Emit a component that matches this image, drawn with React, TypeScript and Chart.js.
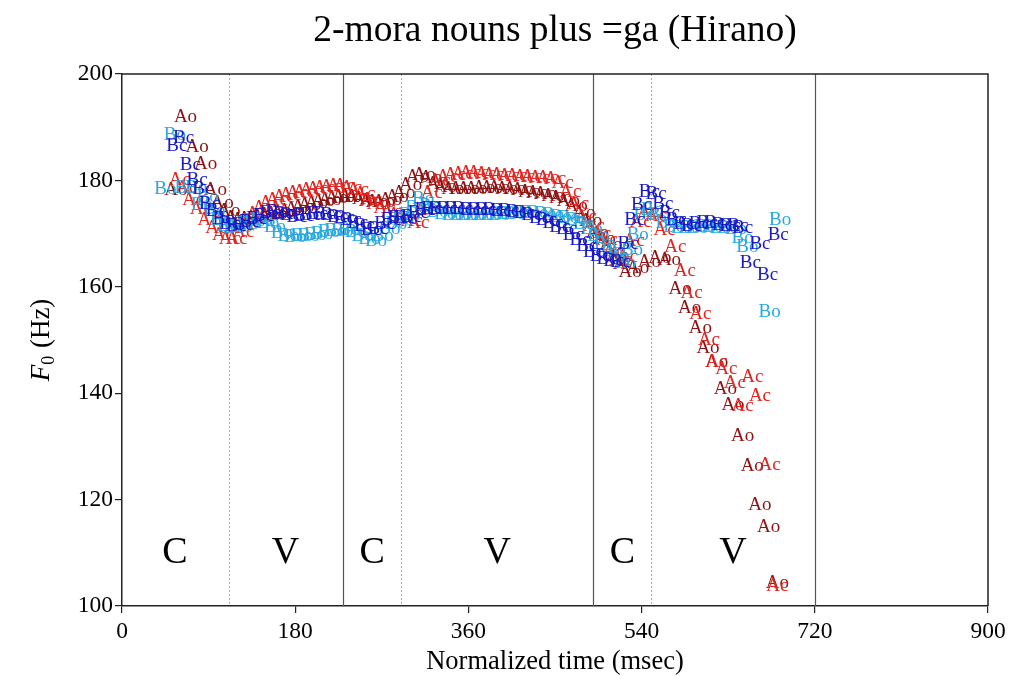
import React, { useEffect, useRef } from 'react';
import { Chart, registerables } from 'chart.js';

Chart.register(...registerables);

const TITLE = '2-mora nouns plus =ga (Hirano)';
const X_TITLE = 'Normalized time (msec)';
const X_TICKS = [0, 180, 360, 540, 720, 900];
const Y_TICKS = [100, 120, 140, 160, 180, 200];

const BOUNDARIES = [111, 230, 290, 490, 550, 720];
const BOUNDARY_SOLID = [false, true, false, true, false, true];
const SEGMENT_LABELS = ['C', 'V', 'C', 'V', 'C', 'V'];
const SEGMENT_CENTERS = [55, 170, 260, 390, 520, 635];
const SEGMENT_LABEL_Y = 110;

const SERIES_NAMES = ['Ao', 'Ac', 'Bo', 'Bc'];
const SERIES_COLORS = ['#8e1212', '#e3241f', '#2aa8e0', '#1818c8'];

const AO_X = [56, 66, 78, 87, 97, 104, 111, 118, 125, 132, 139, 146, 153, 160, 167, 174, 181, 188, 195, 202, 209, 216, 223, 230, 237, 244, 251, 258, 265, 272, 279, 286, 293, 300, 307, 314, 321, 328, 336, 344, 352, 360, 368, 376, 384, 392, 400, 408, 416, 424, 432, 440, 448, 456, 464, 472, 480, 487, 494, 501, 508, 515, 522, 528, 536, 548, 559, 569, 580, 590, 601, 609, 618, 627, 635, 645, 655, 663, 672, 681];
const AO_Y = [178.2, 191.9, 186.3, 183.0, 178.2, 175.8, 174.2, 173.0, 172.6, 172.8, 173.0, 173.2, 173.4, 173.6, 173.8, 174.2, 174.6, 175.0, 175.4, 175.8, 176.1, 176.3, 176.6, 176.8, 176.9, 176.8, 176.5, 176.2, 176.0, 176.0, 176.3, 176.9, 177.7, 179.2, 180.6, 181.0, 180.4, 179.4, 178.7, 178.4, 178.3, 178.3, 178.4, 178.5, 178.5, 178.5, 178.4, 178.3, 178.1, 177.9, 177.7, 177.4, 177.0, 176.6, 176.1, 175.2, 173.8, 172.4, 170.2, 168.9, 167.8, 165.8, 164.2, 162.8, 163.6, 164.7, 165.5, 165.1, 159.5, 156.1, 152.2, 148.4, 145.8, 140.7, 137.7, 131.9, 126.3, 119.0, 114.8, 104.3];

const AC_X = [60, 67, 74, 82, 90, 98, 105, 112, 119, 126, 133, 140, 147, 154, 161, 168, 175, 182, 189, 196, 203, 210, 217, 224, 231, 238, 245, 252, 259, 266, 273, 280, 287, 294, 301, 308, 315, 322, 330, 338, 346, 354, 362, 370, 378, 386, 394, 402, 410, 418, 426, 434, 442, 450, 458, 466, 474, 482, 490, 497, 504, 511, 518, 525, 532, 539, 547, 555, 564, 575, 585, 592, 601, 610, 618, 628, 637, 645, 655, 663, 673, 681];
const AC_Y = [180.1, 178.6, 176.4, 174.6, 172.6, 171.0, 169.8, 169.0, 168.9, 170.3, 172.0, 173.6, 174.8, 175.8, 176.4, 176.9, 177.3, 177.6, 177.9, 178.2, 178.4, 178.6, 178.8, 179.0, 179.0, 178.6, 178.2, 177.4, 176.4, 175.6, 174.8, 174.0, 173.4, 172.8, 172.3, 172.0, 174.5, 177.7, 179.8, 180.6, 181.0, 181.2, 181.3, 181.3, 181.2, 181.1, 181.0, 180.9, 180.8, 180.7, 180.6, 180.5, 180.4, 180.2, 179.6, 177.9, 175.6, 173.2, 171.4, 170.0, 168.8, 166.8, 165.0, 165.6, 168.6, 172.2, 174.0, 173.3, 170.7, 167.4, 162.9, 158.9, 154.8, 150.0, 145.8, 144.5, 142.0, 137.5, 143.0, 139.4, 126.5, 103.8];

const BO_X = [45, 55, 66, 77, 83, 89, 96, 103, 110, 117, 124, 131, 138, 145, 152, 159, 166, 173, 180, 187, 194, 201, 208, 215, 222, 229, 236, 243, 250, 257, 264, 271, 278, 285, 292, 299, 306, 313, 320, 328, 336, 344, 352, 360, 368, 376, 384, 392, 400, 408, 416, 424, 432, 440, 448, 456, 464, 472, 480, 488, 495, 502, 509, 516, 523, 530, 536, 543, 551, 558, 566, 574, 582, 590, 598, 606, 614, 622, 630, 638, 645, 650, 673, 684];
const BO_Y = [178.4, 188.6, 178.6, 178.6, 175.4, 176.9, 174.2, 172.5, 171.4, 171.0, 171.2, 171.8, 172.3, 172.6, 172.0, 171.2, 170.2, 169.6, 169.4, 169.5, 169.6, 169.8, 170.0, 170.3, 170.4, 170.5, 170.6, 170.3, 169.6, 169.0, 168.7, 169.5, 170.8, 171.8, 172.5, 173.5, 174.8, 176.5, 175.2, 174.0, 173.6, 173.5, 173.4, 173.4, 173.4, 173.4, 173.5, 173.5, 173.6, 173.7, 173.8, 173.8, 173.8, 173.6, 173.4, 173.2, 172.9, 172.5, 171.8, 170.8, 169.5, 168.0, 166.8, 165.6, 164.5, 167.0, 169.8, 173.5, 174.5, 173.5, 172.0, 171.2, 171.0, 171.0, 171.1, 171.2, 171.2, 171.1, 171.0, 170.9, 169.2, 167.5, 155.3, 172.6];

const BC_X = [57, 64, 71, 78, 84, 91, 98, 105, 112, 119, 126, 133, 140, 147, 154, 161, 168, 175, 182, 189, 196, 203, 210, 217, 224, 231, 238, 245, 252, 259, 266, 273, 280, 287, 294, 301, 308, 315, 322, 330, 338, 346, 354, 362, 370, 378, 386, 394, 402, 410, 418, 426, 434, 441, 448, 455, 462, 469, 476, 483, 490, 497, 504, 511, 518, 526, 533, 540, 548, 555, 562, 569, 576, 584, 592, 600, 608, 616, 624, 632, 640, 645, 653, 663, 671, 682];
const BC_Y = [186.4, 188.0, 182.8, 180.0, 178.4, 175.5, 174.2, 172.8, 171.8, 171.4, 171.6, 172.2, 172.8, 173.3, 173.8, 174.0, 173.7, 173.4, 173.2, 173.3, 173.5, 173.6, 173.6, 173.4, 173.2, 172.9, 172.5, 172.0, 171.4, 170.6, 170.8, 171.8, 172.6, 173.0, 172.9, 173.2, 173.8, 174.4, 174.6, 174.6, 174.6, 174.6, 174.6, 174.5, 174.5, 174.4, 174.4, 174.3, 174.2, 174.0, 173.8, 173.5, 173.0, 172.5, 172.0, 171.3, 170.8, 169.8, 168.8, 167.6, 166.6, 165.8, 165.2, 164.8, 164.6, 168.0, 172.5, 175.4, 177.8, 177.5, 175.5, 173.8, 172.5, 171.8, 171.5, 171.8, 172.0, 171.9, 171.6, 171.5, 171.4, 171.1, 164.5, 168.0, 162.3, 169.8];

const SERIES_X = [AO_X, AC_X, BO_X, BC_X];
const SERIES_Y = [AO_Y, AC_Y, BO_Y, BC_Y];

const SERIF = '"Liberation Serif", "Times New Roman", serif';
const MARK_FONT = 19;

const textMarks = {
  id: 'textMarks',
  afterDatasetsDraw(chart: any) {
    const ctx = chart.ctx;
    ctx.save();
    ctx.font = `${MARK_FONT}px ${SERIF}`;
    ctx.textAlign = 'center';
    ctx.textBaseline = 'middle';
    chart.data.datasets.forEach((ds: any, i: number) => {
      const meta = chart.getDatasetMeta(i);
      ctx.fillStyle = ds.borderColor;
      meta.data.forEach((el: any) => {
        ctx.fillText(ds.label, el.x, el.y);
      });
    });
    ctx.restore();
  },
};

const segments = {
  id: 'segments',
  beforeDatasetsDraw(chart: any) {
    const { ctx, chartArea, scales } = chart;
    const xs = scales.x;
    const ys = scales.y;
    ctx.save();
    BOUNDARIES.forEach((b, i) => {
      const px = Math.round(xs.getPixelForValue(b)) + 0.5;
      ctx.beginPath();
      if (BOUNDARY_SOLID[i]) {
        ctx.setLineDash([]);
        ctx.strokeStyle = '#555';
        ctx.lineWidth = 1.2;
      } else {
        ctx.setLineDash([2, 2]);
        ctx.strokeStyle = '#aaa';
        ctx.lineWidth = 1;
      }
      ctx.moveTo(px, chartArea.top);
      ctx.lineTo(px, chartArea.bottom);
      ctx.stroke();
    });
    ctx.setLineDash([]);
    ctx.fillStyle = '#000';
    ctx.font = `38px ${SERIF}`;
    ctx.textAlign = 'center';
    ctx.textBaseline = 'middle';
    SEGMENT_LABELS.forEach((t, i) => {
      ctx.fillText(t, xs.getPixelForValue(SEGMENT_CENTERS[i]), ys.getPixelForValue(SEGMENT_LABEL_Y));
    });
    ctx.strokeStyle = '#222';
    ctx.lineWidth = 1.5;
    ctx.beginPath();
    ctx.moveTo(chartArea.left, chartArea.top);
    ctx.lineTo(chartArea.right, chartArea.top);
    ctx.lineTo(chartArea.right, chartArea.bottom);
    ctx.stroke();
    ctx.restore();
  },
};

const titles = {
  id: 'titles',
  afterDraw(chart: any) {
    const { ctx, chartArea } = chart;
    ctx.save();
    ctx.fillStyle = '#000';
    ctx.textBaseline = 'middle';
    ctx.textAlign = 'center';
    ctx.font = `37.5px ${SERIF}`;
    ctx.fillText(TITLE, (chartArea.left + chartArea.right) / 2, 31);

    const cy = (chartArea.top + chartArea.bottom) / 2;
    const cx = 40;
    ctx.translate(cx, cy);
    ctx.rotate(-Math.PI / 2);
    ctx.textAlign = 'left';
    ctx.textBaseline = 'alphabetic';
    const fMain = `italic 27px ${SERIF}`;
    const fSub = `18px ${SERIF}`;
    const fRest = `27px ${SERIF}`;
    ctx.font = fMain;
    const wF = ctx.measureText('F').width;
    ctx.font = fSub;
    const w0 = ctx.measureText('0').width;
    ctx.font = fRest;
    const wR = ctx.measureText(' (Hz)').width;
    const total = wF + w0 + 1 + wR;
    let x = -total / 2;
    const base = 9;
    ctx.font = fMain;
    ctx.fillText('F', x, base);
    x += wF;
    ctx.font = fSub;
    ctx.fillText('0', x, base + 5);
    x += w0 + 1;
    ctx.font = fRest;
    ctx.fillText(' (Hz)', x, base);
    ctx.restore();
  },
};

export default function App() {
  const ref = useRef<HTMLCanvasElement>(null);
  useEffect(() => {
    const canvas = ref.current;
    if (!canvas) return;
    const datasets = SERIES_NAMES.map((name, i) => ({
      label: name,
      data: SERIES_X[i].map((x, j) => ({ x, y: SERIES_Y[i][j] })),
      borderColor: SERIES_COLORS[i],
      backgroundColor: SERIES_COLORS[i],
      pointRadius: 0,
      pointHoverRadius: 0,
      showLine: false,
    }));
    const tickFont = { family: SERIF, size: 23.5 };
    const chart = new Chart(canvas, {
      type: 'scatter',
      data: { datasets },
      options: {
        animation: false,
        responsive: false,
        devicePixelRatio: 1,
        layout: { padding: { top: 74, right: 25, left: 0, bottom: 0 } },
        plugins: {
          legend: { display: false },
          tooltip: { enabled: false },
          title: { display: false },
        },
        scales: {
          x: {
            type: 'linear',
            min: 0,
            max: 900,
            afterBuildTicks: (s: any) => {
              s.ticks = X_TICKS.map((v) => ({ value: v }));
            },
            ticks: { font: tickFont, color: '#000', padding: 5, maxRotation: 0, autoSkip: false },
            grid: { drawOnChartArea: false, drawTicks: true, tickLength: 7, color: '#222', lineWidth: 1.2 },
            border: { display: true, color: '#222', width: 1.5 },
            title: { display: true, text: X_TITLE, color: '#000', font: { family: SERIF, size: 26.5 }, padding: { top: 0, bottom: -2 } },
            afterFit: (s: any) => {
              s.height = 70;
            },
          },
          y: {
            type: 'linear',
            min: 100,
            max: 200,
            afterBuildTicks: (s: any) => {
              s.ticks = Y_TICKS.map((v) => ({ value: v }));
            },
            ticks: { font: tickFont, color: '#000', padding: 2, autoSkip: false },
            grid: { drawOnChartArea: false, drawTicks: true, tickLength: 7, color: '#222', lineWidth: 1.2 },
            border: { display: true, color: '#222', width: 1.5 },
            afterFit: (s: any) => {
              s.width = 122;
            },
          },
        },
      } as any,
      plugins: [segments, textMarks, titles],
    });
    return () => chart.destroy();
  }, []);
  return (
    <div style={{ position: 'fixed', left: 0, top: 0, width: 1013, height: 676, background: '#fff' }}>
      <canvas ref={ref} width={1013} height={676} style={{ display: 'block' }} />
    </div>
  );
}
